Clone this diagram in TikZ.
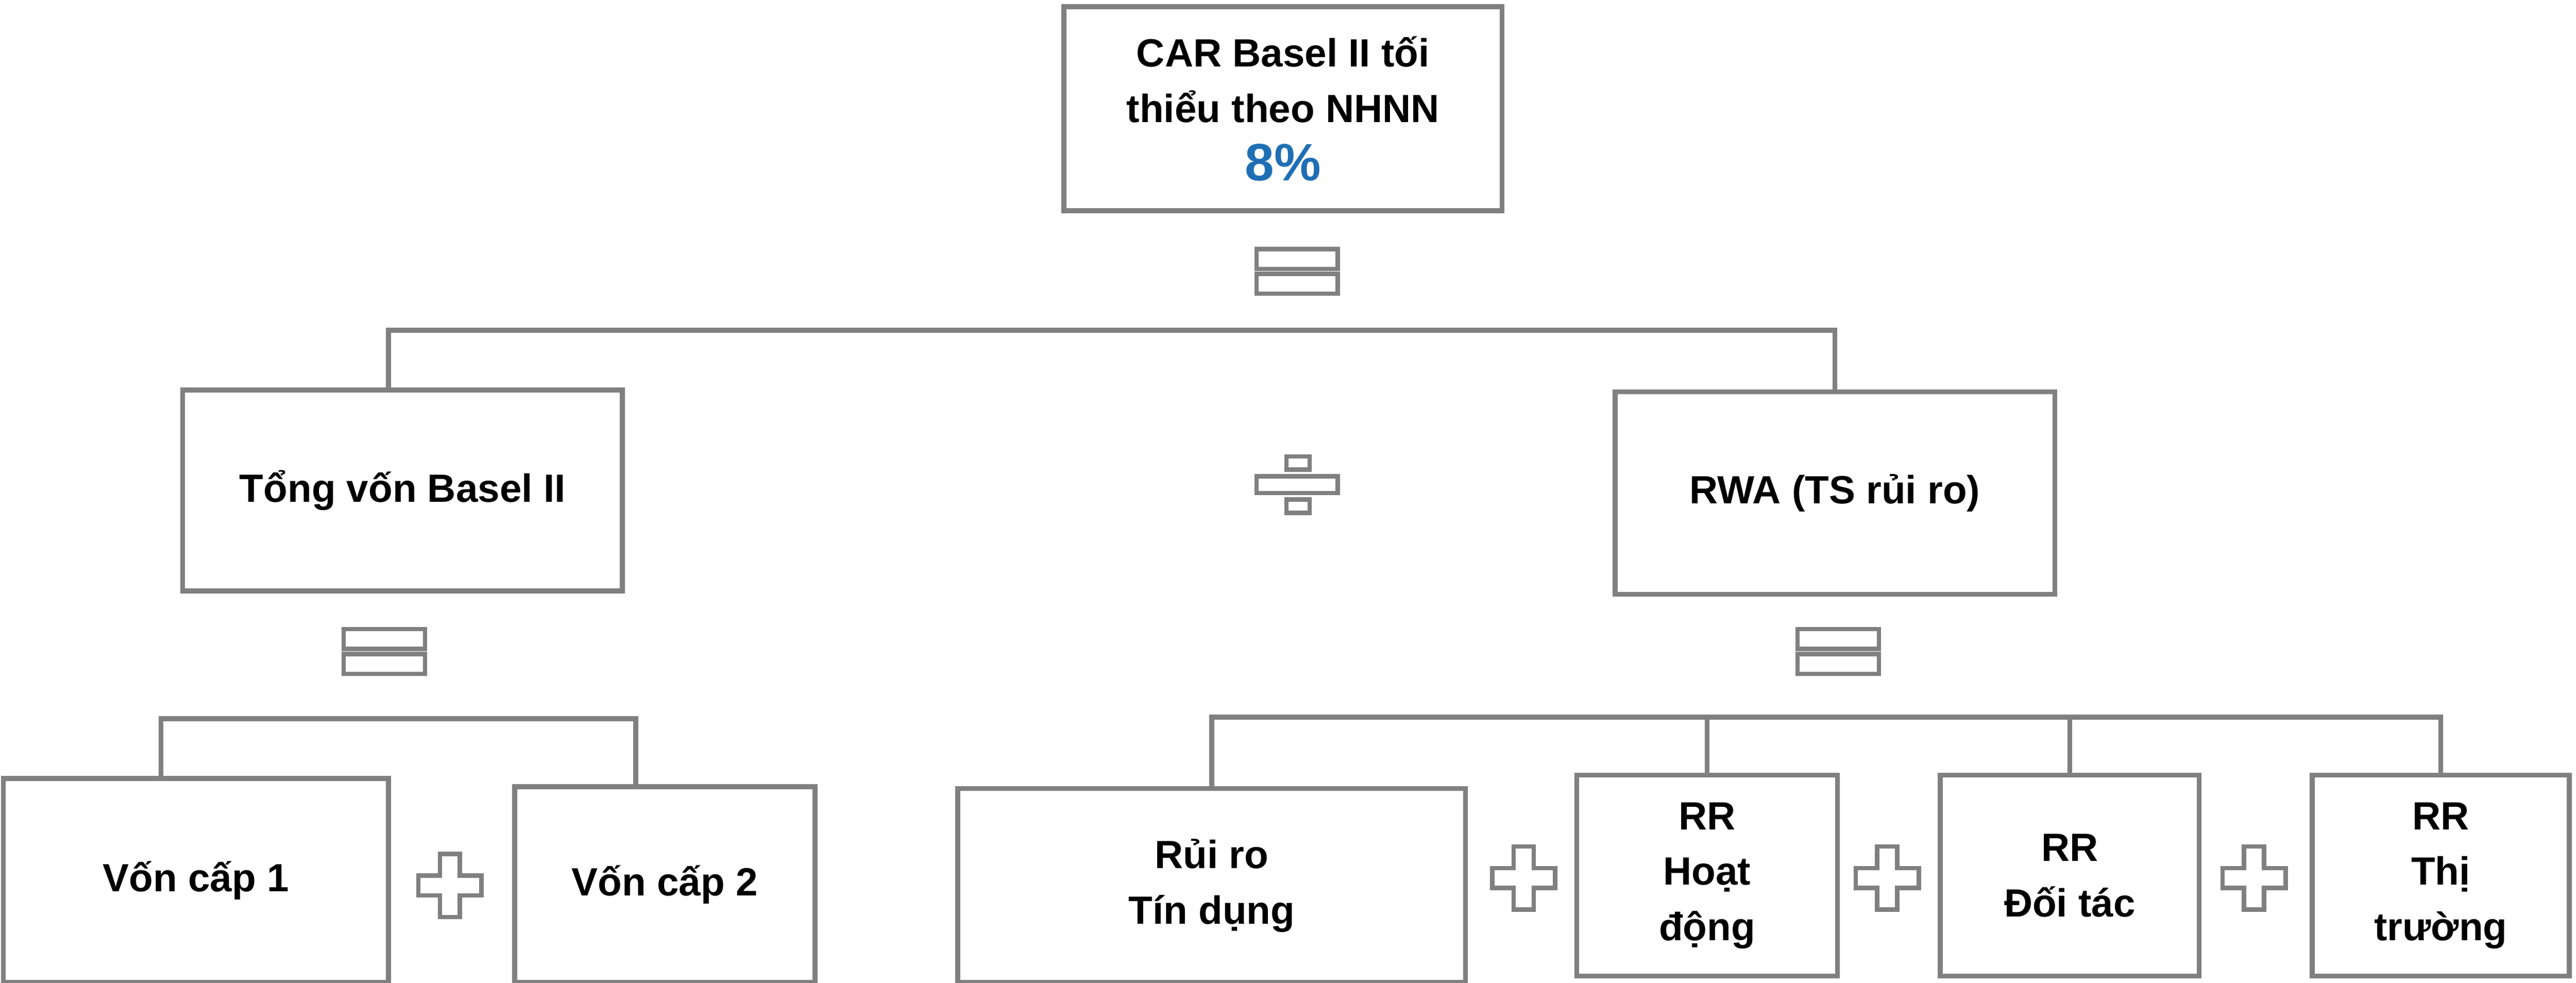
\documentclass[tikz,border=0pt]{standalone}
\usepackage{fontspec}
\setmainfont{Liberation Sans}
\definecolor{linegray}{HTML}{808080}
\definecolor{capblue}{HTML}{1F6FB5}
\tikzset{
  box/.style={draw=linegray, line width=1.7pt, align=center, font=\fontsize{13.5}{19}\selectfont\bfseries, inner sep=0pt},
  link/.style={draw=linegray, line width=1.7pt},
  sym/.style={draw=linegray, line width=1.5pt}
}
\newcommand{\eqsign}[2]{%
  \draw[sym] (#1-24.5,#2-13.5) rectangle (#1+24.5,#2-1.5);
  \draw[sym] (#1-24.5,#2+1.5) rectangle (#1+24.5,#2+13.5);
}
\newcommand{\plussign}[2]{%
  \draw[sym] (#1-6,#2-19) -- (#1+6,#2-19) -- (#1+6,#2-6) -- (#1+19,#2-6) -- (#1+19,#2+6)
    -- (#1+6,#2+6) -- (#1+6,#2+19) -- (#1-6,#2+19) -- (#1-6,#2+6) -- (#1-19,#2+6)
    -- (#1-19,#2-6) -- (#1-6,#2-6) -- cycle;
}
\begin{document}
\begin{tikzpicture}[x=0.02cm, y=-0.02cm]
  \useasboundingbox (0,0) rectangle (1552,592);

  % boxes
  \node[box, minimum width=5.28cm, minimum height=2.46cm] (car) at (773,65.5)
    {CAR Basel II tối\\thiểu theo NHNN\\[1pt]{\fontsize{18}{19}\selectfont\color{capblue}8\%}};
  \node[box, minimum width=5.3cm, minimum height=2.42cm] (von) at (242.5,295.5) {Tổng vốn Basel II};
  \node[box, minimum width=5.3cm, minimum height=2.44cm] (rwa) at (1105.5,297) {RWA (TS rủi ro)};

  \node[box, minimum width=4.64cm, minimum height=2.46cm] (cap1) at (118,530.5) {Vốn cấp 1};
  \node[box, minimum width=3.62cm, minimum height=2.36cm] (cap2) at (400.5,533) {Vốn cấp 2};

  \node[box, minimum width=6.12cm, minimum height=2.34cm] (tindung) at (730,533.5) {Rủi ro\\Tín dụng};
  \node[box, minimum width=3.14cm, minimum height=2.42cm] (hoatdong) at (1028.5,527.5) {RR\\Hoạt\\động};
  \node[box, minimum width=3.12cm, minimum height=2.42cm] (doitac) at (1247,527.5) {RR\\Đối tác};
  \node[box, minimum width=3.1cm, minimum height=2.42cm] (thitruong) at (1470.5,527.5) {RR\\Thị\\trường};

  % brackets
  \coordinate (b1) at (773,199);
  \coordinate (b2) at (240,433);
  \coordinate (b3) at (1000,432);
  \draw[link] ([xshift=-0.17cm]von.north) |- (b1) -| (rwa.north);
  \draw[link] ([xshift=-0.42cm]cap1.north) |- (b2) -| ([xshift=-0.35cm]cap2.north);
  \draw[link] (tindung.north) |- (b3) -| (thitruong.north);
  \draw[link] (hoatdong.north) -- (hoatdong.north |- b3);
  \draw[link] (doitac.north) -- (doitac.north |- b3);

  % symbols
  \eqsign{781.5}{163.5}
  \eqsign{231.5}{392.5}
  \eqsign{1107.5}{392.5}

  \draw[sym] (757,287) rectangle (806,297);
  \draw[sym] (775,275) rectangle (789,283);
  \draw[sym] (775,301) rectangle (789,309);

  \plussign{271}{533.5}
  \plussign{918}{529}
  \plussign{1137}{529}
  \plussign{1358}{529}
\end{tikzpicture}
\end{document}
